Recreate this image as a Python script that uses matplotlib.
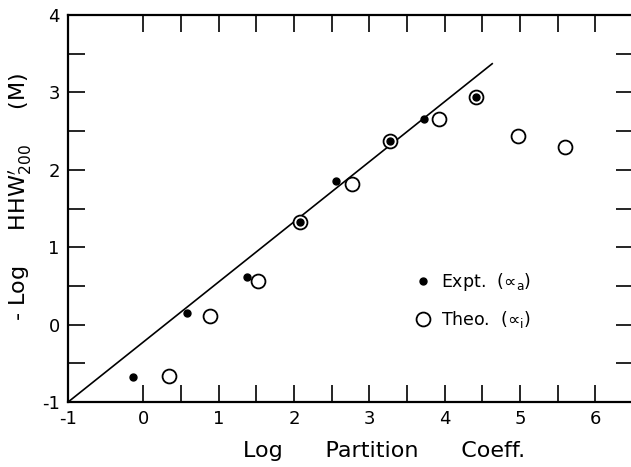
import matplotlib
matplotlib.use("Agg")
import matplotlib.pyplot as plt
from matplotlib.ticker import FixedLocator

OUTPUT_PATH = "out.png"

# values
EXPT_X = [-0.14, 0.58, 1.375, 2.08, 2.56, 3.28, 3.72, 4.42]
EXPT_Y = [-0.68, 0.15, 0.61, 1.33, 1.85, 2.37, 2.66, 2.945]

THEO_X = [0.34, 0.89, 1.52, 2.08, 2.77, 3.28, 3.92, 4.42, 4.97, 5.60]
THEO_Y = [-0.66, 0.11, 0.57, 1.33, 1.82, 2.37, 2.66, 2.945, 2.44, 2.29]

FIT_X = [-1.0, 4.63]
FIT_Y = [-1.0, 3.37]

X_TICKS = [-1, 0, 1, 2, 3, 4, 5, 6]
X_MINOR = [0.5, 1.5, 2.5, 3.5, 4.5, 5.5]
Y_TICKS = [-1, 0, 1, 2, 3, 4]
Y_MINOR = [-0.5, 0.5, 1.5, 2.5, 3.5]


def plot_partition(path):
    fig = plt.figure(figsize=(6.31, 4.67), dpi=100)
    ax = fig.add_axes([0.1078, 0.139, 0.8955, 0.829])

    ax.plot(FIT_X, FIT_Y, color="black", lw=1.2, zorder=2)
    theo, = ax.plot(THEO_X, THEO_Y, "o", ms=10, mfc="white", mec="black",
                    mew=1.3, zorder=3, label="Theo.  (\u221d$_{\\mathregular{i}}$)")
    expt, = ax.plot(EXPT_X, EXPT_Y, "o", ms=5, color="black", zorder=4,
                    label="Expt.  (\u221d$_{\\mathregular{a}}$)")

    ax.set_xlim(-1, 6.5)
    ax.set_ylim(-1, 4)

    ax.xaxis.set_major_locator(FixedLocator(X_TICKS))
    ax.xaxis.set_minor_locator(FixedLocator(X_MINOR))
    ax.yaxis.set_major_locator(FixedLocator(Y_TICKS))
    ax.yaxis.set_minor_locator(FixedLocator(Y_MINOR))
    ax.set_xticklabels([str(t) for t in X_TICKS])
    ax.set_yticklabels([str(t) for t in Y_TICKS])

    for which in ("major", "minor"):
        ax.tick_params(which=which, direction="in", length=12, width=1.2,
                       top=True, right=True, labelsize=13, pad=6)
    for s in ax.spines.values():
        s.set_linewidth(1.6)

    ax.set_xlabel("Log      Partition      Coeff.", fontsize=16)
    ax.xaxis.set_label_coords(0.56, -0.1)
    ax.set_ylabel("- Log     HHW$^{\\prime}_{\\mathregular{200}}$     (M)",
                  fontsize=16)
    ax.yaxis.set_label_coords(-0.06, 0.53)

    ax.legend(handles=[expt, theo], loc="upper left",
              bbox_to_anchor=(0.585, 0.378), frameon=False, fontsize=12.5,
              handletextpad=0.55, handlelength=1.0, labelspacing=0.9)

    fig.savefig(path, dpi=100)
    plt.close(fig)


def main():
    plot_partition(OUTPUT_PATH)


if __name__ == "__main__":
    main()
